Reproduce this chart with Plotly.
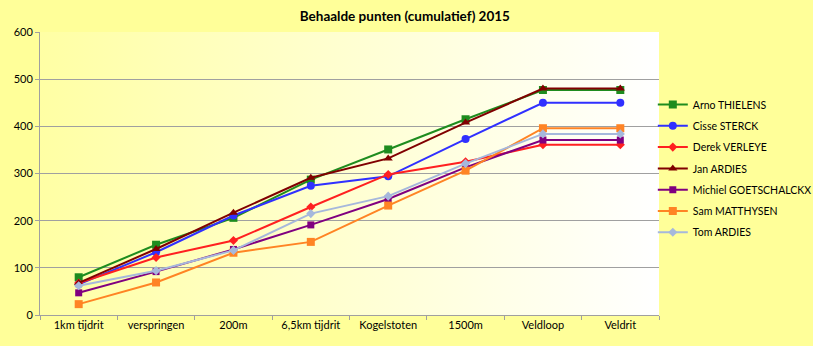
import base64
import plotly.graph_objects as go

categories = ["1km tijdrit", "verspringen", "200m", "6,5km tijdrit", "Kogelstoten", "1500m", "Veldloop", "Veldrit"]

arno = [80, 149, 206, 287, 351, 415, 477, 477]
cisse = [65, 133, 211, 274, 294, 373, 450, 450]
derek = [68, 122, 158, 229, 298, 325, 361, 361]
jan = [68, 140, 217, 291, 332, 408, 480, 480]
michiel = [47, 92, 139, 191, 246, 313, 371, 371]
sam = [23, 69, 132, 155, 232, 306, 396, 396]
tom = [62, 94, 137, 215, 252, 321, 384, 384]

series = [
    ("Arno THIELENS", arno, "#1E8C1E", "square", 8),
    ("Cisse STERCK", cisse, "#3030FF", "circle", 8),
    ("Derek VERLEYE", derek, "#FF2020", "diamond", 7),
    ("Jan ARDIES", jan, "#800000", "triangle-up", 8),
    ("Michiel GOETSCHALCKX", michiel, "#800080", "square", 7),
    ("Sam MATTHYSEN", sam, "#FF8424", "square", 8),
    ("Tom ARDIES", tom, "#A6B8DC", "diamond", 7),
]

fig = go.Figure()
for name, vals, color, sym, size in series:
    fig.add_trace(go.Scatter(
        x=categories, y=vals, name=name, mode="lines+markers", legendgroup=name,
        line=dict(color=color, width=2),
        marker=dict(symbol=sym, size=size, color=color),
    ))

svg = ('<svg xmlns="http://www.w3.org/2000/svg" width="100" height="100" preserveAspectRatio="none">'
       '<defs><linearGradient id="g" x1="0" y1="0" x2="1" y2="0">'
       '<stop offset="0" stop-color="#FFFFA4"/><stop offset="1" stop-color="#FFFFFF"/>'
       '</linearGradient></defs><rect width="100" height="100" fill="url(#g)"/></svg>')
src = "data:image/svg+xml;base64," + base64.b64encode(svg.encode()).decode()

fig.update_layout(
    width=813, height=346,
    paper_bgcolor="#FFFF99",
    plot_bgcolor="rgba(0,0,0,0)",
    margin=dict(l=40, r=154, t=32, b=31, autoexpand=False),
    font=dict(family="Lato, Open Sans, sans-serif", size=11, color="#000000"),
    title=dict(text="<b>Behaalde punten (cumulatief) 2015</b>", x=0.498, xanchor="center",
               y=0.952, yanchor="middle", font=dict(size=13.5)),
    images=[dict(source=src, xref="paper", yref="paper", x=0, y=1, sizex=1, sizey=1,
                 xanchor="left", yanchor="top", sizing="stretch", layer="below")],
    legend=dict(x=0.99, xanchor="left", y=0.795, yanchor="top",
                bgcolor="rgba(0,0,0,0)", font=dict(size=10.5), itemwidth=30,
                tracegroupgap=2.3),
    showlegend=True,
)
fig.update_xaxes(
    type="category", tickson="boundaries", ticks="outside", ticklen=4, tickcolor="#A0A0A0",
    showline=True, linecolor="#A0A0A0", linewidth=1, showgrid=False,
    range=[-0.5, 7.5], tickfont=dict(size=11),
)
fig.update_yaxes(
    range=[0, 600], dtick=100, ticks="outside", ticklen=4, tickcolor="#A0A0A0",
    showline=True, linecolor="#A0A0A0", linewidth=1,
    showgrid=True, gridcolor="#A0A0A0", gridwidth=1, zeroline=False,
    tickfont=dict(size=11),
)
fig.write_html("out.html")
